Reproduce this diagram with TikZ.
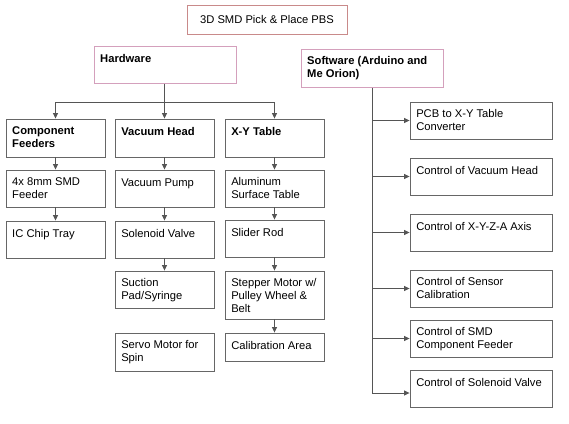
\documentclass[tikz,border=0pt]{standalone}
\usepackage{fontspec}
\setmainfont{Liberation Sans}
\usetikzlibrary{fit,arrows.meta}
\definecolor{boxline}{HTML}{666666}
\definecolor{connline}{HTML}{555555}
\definecolor{titleline}{HTML}{C98A8A}
\definecolor{groupline}{HTML}{D4A0BC}
\newcommand\mybox[5]{%
  \node[#1, fit={#3 #4}] (#2) {};
  \node[txt] (#2t) at ([shift={(6.5,7.9)}]#2.north west) {#5};
}
\begin{document}
\begin{tikzpicture}[x=1pt,y=-1pt,
  plainbox/.style={draw=boxline, line width=0.9pt, fill=white, inner sep=0pt},
  groupbox/.style={draw=groupline, line width=1pt, fill=white, inner sep=0pt},
  titlebox/.style={draw=titleline, line width=1pt, fill=white, inner sep=0pt},
  txt/.style={anchor=north west, inner sep=0pt, align=left,
    font=\fontsize{11.2}{13}\selectfont, execute at begin node=\strut},
  conn/.style={draw=connline, line width=0.8pt},
  arr/.style={conn, -{Triangle[length=5.5pt,width=5pt]}}]
\useasboundingbox[fill=white] (0,0) rectangle (569,423);

% title
\node[titlebox, fit={(187,5) (347,34)}] (title) {};
\node[inner sep=0pt, font=\fontsize{11.2}{13}\selectfont] (titlet) at (title.center) {3D SMD Pick \& Place PBS};

% group boxes
\mybox{groupbox}{hw}{(94,46)}{(236,83)}{\textbf{Hardware}}
\mybox{groupbox}{sw}{(301,49)}{(443,87)}{\textbf{Software (Arduino and}\\\textbf{Me Orion)}}

% column 1
\mybox{plainbox}{cf}{(6,119)}{(105,157)}{\textbf{Component}\\\textbf{Feeders}}
\mybox{plainbox}{smd}{(6,170)}{(105,207)}{4x 8mm SMD\\Feeder}
\mybox{plainbox}{ic}{(6,221)}{(105,258)}{IC Chip Tray}

% column 2
\mybox{plainbox}{vh}{(115,119)}{(214,157)}{\textbf{Vacuum Head}}
\mybox{plainbox}{vp}{(115,170)}{(214,207)}{Vacuum Pump}
\mybox{plainbox}{sv}{(115,221)}{(214,258)}{Solenoid Valve}
\mybox{plainbox}{sp}{(115,271)}{(214,308)}{Suction\\Pad/Syringe}
\mybox{plainbox}{sm}{(115,333)}{(214,371)}{Servo Motor for\\Spin}

% column 3
\mybox{plainbox}{xy}{(225,119)}{(324,157)}{\textbf{X-Y Table}}
\mybox{plainbox}{al}{(225,170)}{(324,207)}{Aluminum\\Surface Table}
\mybox{plainbox}{sr}{(225,220)}{(324,257)}{Slider Rod}
\mybox{plainbox}{st}{(225,271)}{(324,319)}{Stepper Motor w/\\Pulley Wheel \&\\Belt}
\mybox{plainbox}{ca}{(225,333)}{(324,361)}{Calibration Area}

% software column
\mybox{plainbox}{r1}{(410,102)}{(552,139)}{PCB to X-Y Table\\Converter}
\mybox{plainbox}{r2}{(410,158)}{(552,195)}{Control of Vacuum Head}
\mybox{plainbox}{r3}{(410,214)}{(552,251)}{Control of X-Y-Z-A Axis}
\mybox{plainbox}{r4}{(410,270)}{(552,307)}{Control of Sensor\\Calibration}
\mybox{plainbox}{r5}{(410,320)}{(552,357)}{Control of SMD\\Component Feeder}
\mybox{plainbox}{r6}{(410,370)}{(552,407)}{Control of Solenoid Valve}

% hardware connectors
\coordinate (hb) at (164.5,102.5);
\draw[arr] (hw.south -| vh.north) -- (vh.north);
\draw[arr] (hb) -| (cf.north);
\draw[arr] (hb) -| (xy.north);

% vertical chains
\draw[arr] (cf.south) -- (smd.north);
\draw[arr] (smd.south) -- (ic.north);
\draw[arr] (vh.south) -- (vp.north);
\draw[arr] (vp.south) -- (sv.north);
\draw[arr] (sv.south) -- (sp.north);
\draw[arr] (xy.south) -- (al.north);
\draw[arr] (al.south) -- (sr.north);
\draw[arr] (sr.south) -- (st.north);
\draw[arr] (st.south) -- (ca.north);

% software spine
\coordinate (sb) at (372,393);
\draw[conn] (sw.south) -- (sb);
\draw[arr] (sw.south |- r1.west) -- (r1.west);
\draw[arr] (sw.south |- r2.west) -- (r2.west);
\draw[arr] (sw.south |- r3.west) -- (r3.west);
\draw[arr] (sw.south |- r4.west) -- (r4.west);
\draw[arr] (sw.south |- r5.west) -- (r5.west);
\draw[arr] (sb) -- (sb -| r6.west);
\end{tikzpicture}
\end{document}
